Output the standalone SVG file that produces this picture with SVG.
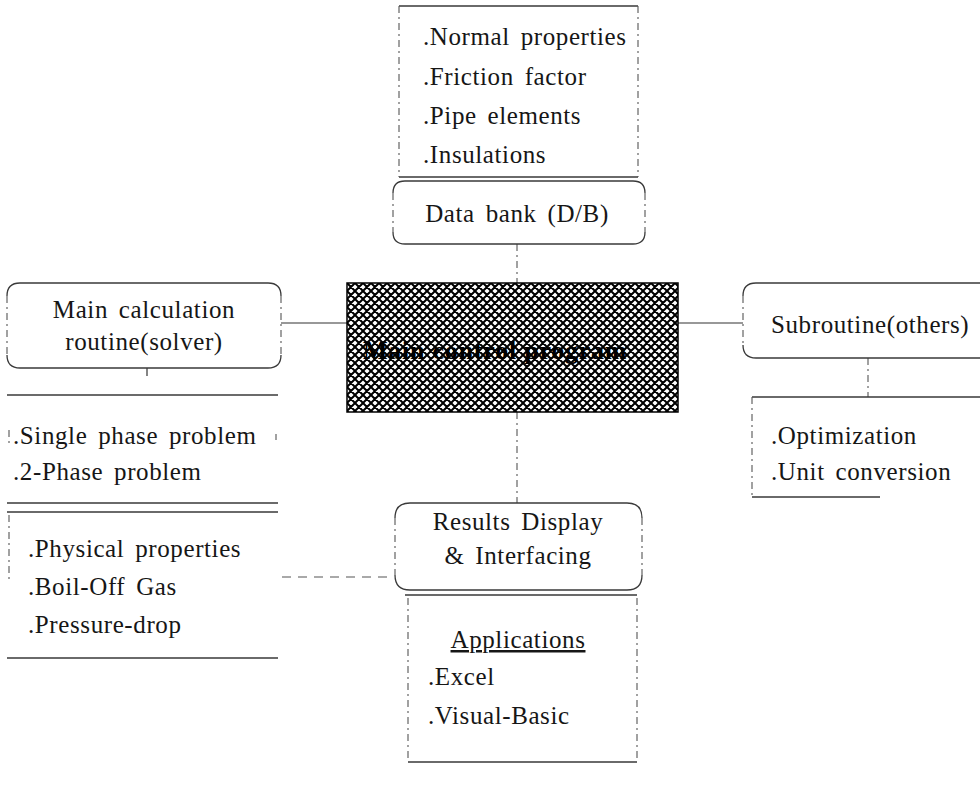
<svg xmlns="http://www.w3.org/2000/svg" width="980" height="792" viewBox="0 0 980 792">
<style>
.t{font-family:"Liberation Serif","Times New Roman",serif;font-size:25px;fill:#161616;letter-spacing:0.6px;word-spacing:4px}
.c{text-anchor:middle}
.b{fill:none;stroke:#3a3a3a;stroke-width:1.3}
.d{fill:none;stroke:#555;stroke-width:1.1;stroke-dasharray:7 4 2 4}
.k{fill:none;stroke:#333;stroke-width:1.2}
.dd{fill:none;stroke:#555;stroke-width:1.2;stroke-dasharray:9 7}
</style>
<defs>
<pattern id="hatch" x="347" y="283" width="8" height="8" patternUnits="userSpaceOnUse">
<rect width="8" height="8" fill="#fff"/>
<path d="M-1,-1 L9,9 M-1,9 L9,-1 M-5,3 L3,-5 M5,13 L13,5 M3,13 L-5,5 M13,3 L5,-5" stroke="#000" stroke-width="2"/>
</pattern>
</defs>

<g id="connectors">
<path class="d" d="M517,244 V283"/>
<path class="k" d="M281,323 H347"/>
<path class="k" d="M678,323 H743"/>
<path class="d" d="M868,358 V397"/>
<path class="k" d="M147,368 V376"/>
<path class="d" d="M517,412 V503"/>
<path class="dd" d="M282,577 H390"/>
</g>

<g id="databank-list">
<path class="b" d="M399,6 H638 M399,177 H638"/>
<path class="d" d="M399,6 V177 M638,6 V177"/>
<text class="t" x="423" y="45">.Normal properties</text>
<text class="t" x="423" y="85">.Friction factor</text>
<text class="t" x="423" y="124">.Pipe elements</text>
<text class="t" x="423" y="163">.Insulations</text>
</g>

<g id="databank">
<path class="b" d="M393,193 Q393,181 405,181 H633 Q645,181 645,193 M393,232 Q393,244 405,244 H633 Q645,244 645,232"/>
<path class="d" d="M393,193 V232 M645,193 V232"/>
<text class="t c" x="517" y="222">Data bank (D/B)</text>
</g>

<g id="main-calc">
<path class="b" d="M7,296 Q7,283 20,283 H268 Q281,283 281,296 M7,355 Q7,368 20,368 H268 Q281,368 281,355"/>
<path class="d" d="M7,296 V355 M281,296 V355"/>
<text class="t c" x="144" y="318">Main calculation</text>
<text class="t c" x="144" y="350">routine(solver)</text>
</g>

<g id="main-control">
<rect x="347" y="283" width="331" height="129" fill="url(#hatch)" stroke="#000" stroke-width="1.5"/>
<text x="363" y="359" style="font-family:'Liberation Serif','Times New Roman',serif;font-size:26px;font-weight:bold;fill:#000;letter-spacing:0.5px" textLength="264">Main control program</text>
</g>

<g id="subroutine">
<path class="b" d="M743,296 Q743,283 756,283 H980 M743,345 Q743,358 756,358 H980"/>
<path class="d" d="M743,296 V345"/>
<text class="t" x="771" y="333">Subroutine(others)</text>
</g>

<g id="subroutine-list">
<path class="b" d="M752,397 H980 M752,497 H880"/>
<path class="d" d="M752,397 V497"/>
<text class="t" x="771" y="444">.Optimization</text>
<text class="t" x="771" y="480">.Unit conversion</text>
</g>

<g id="solver-list">
<path class="b" d="M7,395 H278"/>
<path class="d" d="M9,430 V446 M276,434 V440"/>
<text class="t" x="13" y="444">.Single phase problem</text>
<text class="t" x="13" y="480">.2-Phase problem</text>
</g>

<g id="solver-items">
<path class="b" d="M7,503 H278 M7,512 H278 M7,658 H278"/>
<path class="d" d="M9,515 V580"/>
<text class="t" x="28" y="557">.Physical properties</text>
<text class="t" x="28" y="595">.Boil-Off Gas</text>
<text class="t" x="28" y="633">.Pressure-drop</text>
</g>

<g id="results">
<path class="b" d="M395,518 Q395,503 410,503 H627 Q642,503 642,518 M395,575 Q395,590 410,590 H627 Q642,590 642,575"/>
<path class="d" d="M395,518 V575 M642,518 V575"/>
<text class="t c" x="518" y="530">Results Display</text>
<text class="t c" x="518" y="564">&amp; Interfacing</text>
</g>

<g id="applications">
<path class="b" d="M405,595 H637 M408,762 H637"/>
<path class="d" d="M408,598 V762 M637,598 V762"/>
<text class="t c" x="518" y="648" text-decoration="underline">Applications</text>
<text class="t" x="428" y="685">.Excel</text>
<text class="t" x="428" y="724">.Visual-Basic</text>
</g>
</svg>
